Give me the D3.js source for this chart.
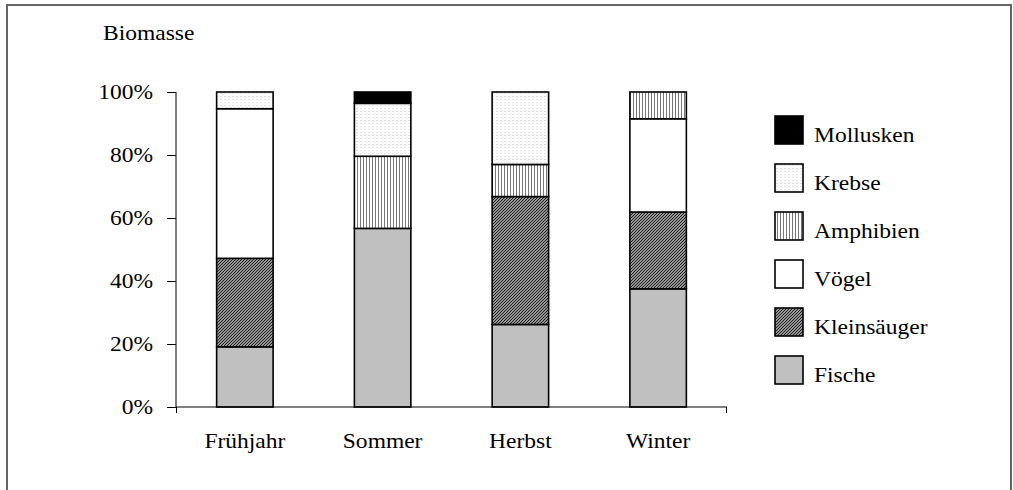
<!DOCTYPE html>
<html><head><meta charset="utf-8">
<script src="https://cdn.jsdelivr.net/npm/d3@7/dist/d3.min.js"></script>
<style>body{margin:0;background:#fff}text{font-family:"Liberation Serif","Times New Roman",serif;fill:#000}</style>
</head><body><svg id="c" width="1013" height="490"></svg>
<script>
const categories = ["Frühjahr", "Sommer", "Herbst", "Winter"];
const seriesNames = ["Fische", "Kleinsäuger", "Vögel", "Amphibien", "Krebse", "Mollusken"];
const fische      = [19.1, 56.7, 26.2, 37.5];
const kleinsaeuger= [28.1, 0,    40.6, 24.4];
const voegel      = [47.5, 0,    0,    29.6];
const amphibien   = [0,    22.9, 10.2, 8.5];
const krebse      = [5.3,  16.8, 23.0, 0];
const mollusken   = [0,    3.6,  0,    0];
const yTicks = [0, 20, 40, 60, 80, 100];
const yTitle = "Biomasse";

const seriesValues = [fische, kleinsaeuger, voegel, amphibien, krebse, mollusken];
const table = categories.map((c, i) => {
  const row = {cat: c};
  seriesNames.forEach((s, j) => row[s] = seriesValues[j][i]);
  return row;
});

const FS = 21, SX = 1.12;
function label(sel, tx, ty, str, anchor) {
  return sel.append("text")
    .attr("transform", `translate(${tx},${ty}) scale(${SX},1)`)
    .attr("font-size", FS).attr("text-anchor", anchor || "start").text(str);
}

const svg = d3.select("#c");
svg.append("rect").attr("x", 7).attr("y", 5).attr("width", 1004).attr("height", 520)
  .attr("fill", "none").attr("stroke", "#666").attr("stroke-width", 2);

const defs = svg.append("defs");
const p1 = defs.append("pattern").attr("id", "pKlein").attr("patternUnits", "userSpaceOnUse")
  .attr("width", 3).attr("height", 3);
p1.append("rect").attr("width", 3).attr("height", 3).attr("fill", "#fff");
p1.append("path").attr("d", "M-1,1 L1,-1 M0,3 L3,0 M2,4 L4,2").attr("stroke", "#222").attr("stroke-width", 1.4);
const p2 = defs.append("pattern").attr("id", "pAmph").attr("patternUnits", "userSpaceOnUse")
  .attr("width", 3).attr("height", 3);
p2.append("rect").attr("width", 3).attr("height", 3).attr("fill", "#fff");
p2.append("rect").attr("x", 0).attr("width", 1).attr("height", 3).attr("fill", "#777");
const p3 = defs.append("pattern").attr("id", "pKrebs").attr("patternUnits", "userSpaceOnUse")
  .attr("width", 4).attr("height", 3);
p3.append("rect").attr("width", 4).attr("height", 3).attr("fill", "#fff");
p3.append("rect").attr("x", 0).attr("y", 0).attr("width", 2).attr("height", 1).attr("fill", "#e2e2e2");
p3.append("rect").attr("x", 2).attr("y", 1.5).attr("width", 1).attr("height", 1).attr("fill", "#ececec");

const fills = {
  "Fische": "#c0c0c0",
  "Kleinsäuger": "url(#pKlein)",
  "Vögel": "#ffffff",
  "Amphibien": "url(#pAmph)",
  "Krebse": "url(#pKrebs)",
  "Mollusken": "#000000"
};

const x = d3.scaleBand().domain(categories).range([176, 727]).paddingInner(0.59).paddingOuter(0.295);
const y = d3.scaleLinear().domain([0, 100]).range([407, 92]);

const stack = d3.stack().keys(seriesNames)(table);

const g = svg.append("g");
stack.forEach(layer => {
  g.selectAll(null).data(layer.filter(d => d[1] - d[0] > 0)).enter().append("rect")
    .attr("x", d => x(d.data.cat))
    .attr("width", x.bandwidth())
    .attr("y", d => y(d[1]))
    .attr("height", d => y(d[0]) - y(d[1]))
    .attr("fill", fills[layer.key])
    .attr("stroke", "#000").attr("stroke-width", 1.6);
});

// Y axis
const yAxis = d3.axisLeft(y).tickValues(yTicks).tickFormat("").tickSize(9);
const ya = svg.append("g").attr("transform", "translate(176,0)").call(yAxis);
ya.select(".domain").attr("stroke", "#000").attr("d", "M0,92V407");
ya.selectAll(".tick line").attr("stroke", "#000");
yTicks.forEach(t => label(svg, 153, y(t) + 7, t + "%", "end"));

// X axis
const xa = svg.append("g").attr("transform", "translate(0,407)");
xa.append("path").attr("d", "M176,0H727").attr("stroke", "#000").attr("fill", "none");
xa.append("path").attr("d", "M176.5,0V6M726.5,0V6").attr("stroke", "#000").attr("fill", "none");
categories.forEach(c => label(svg, x(c) + x.bandwidth() / 2, 448, c, "middle"));

// Title
label(svg, 103, 40, yTitle);

// Legend
const legendOrder = seriesNames.slice().reverse();
legendOrder.forEach((s, i) => {
  const cy = 130 + i * 48;
  svg.append("rect").attr("x", 775).attr("y", cy - 14).attr("width", 28).attr("height", 28)
    .attr("fill", fills[s]).attr("stroke", "#000").attr("stroke-width", 1.6);
  label(svg, 814, cy + 12, s);
});
</script></body></html>
